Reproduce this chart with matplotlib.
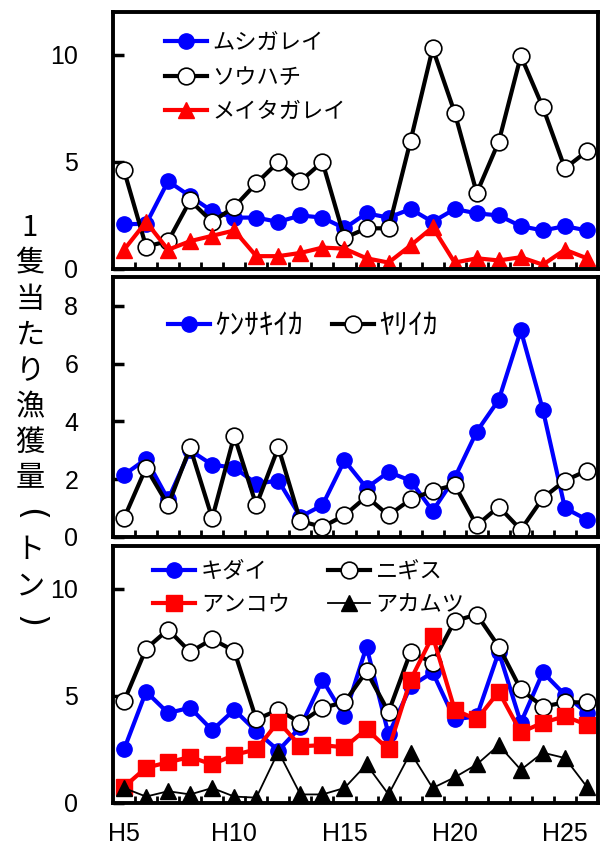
import numpy as np
import matplotlib
matplotlib.use('Agg')
import matplotlib.pyplot as plt

plt.rcParams['font.family'] = ['Noto Sans CJK JP', 'DejaVu Sans']

# 年度 H5〜H26
years = ['H%d' % y for y in range(5, 27)]
tick_years = ['H5', 'H10', 'H15', 'H20', 'H25']

# 上段
mushigarei = [2.1, 2.1, 4.1, 3.4, 2.7, 2.4, 2.4, 2.2, 2.5, 2.4, 1.9,
              2.6, 2.4, 2.8, 2.2, 2.8, 2.6, 2.5, 2.0, 1.8, 2.0, 1.8]
souhachi = [4.6, 1.05, 1.3, 3.2, 2.2, 2.9, 4.0, 5.0, 4.1, 5.0, 1.45,
            1.9, 1.9, 6.0, 10.3, 7.3, 3.55, 5.95, 9.95, 7.55, 4.7, 5.5]
meitagarei = [0.9, 2.2, 0.9, 1.3, 1.55, 1.8, 0.6, 0.6, 0.75, 1.0, 0.95,
              0.5, 0.3, 1.1, 1.95, 0.3, 0.5, 0.4, 0.55, 0.2, 0.9, 0.5]

# 中段
kensakiika = [2.15, 2.7, 1.3, 3.0, 2.5, 2.4, 1.85, 1.95, 0.7, 1.1, 2.65,
              1.7, 2.25, 1.95, 0.9, 2.05, 3.65, 4.75, 7.15, 4.4, 1.0, 0.6]
yariika = [0.65, 2.4, 1.1, 3.1, 0.65, 3.5, 1.1, 3.1, 0.55, 0.35, 0.75,
           1.4, 0.75, 1.3, 1.6, 1.8, 0.4, 1.05, 0.25, 1.35, 1.95, 2.3]

# 下段
kidai = [2.5, 5.2, 4.2, 4.45, 3.4, 4.35, 3.35, 2.45, 3.55, 5.75, 4.05,
         7.3, 3.2, 5.45, 6.1, 3.9, 4.05, 7.05, 3.75, 6.1, 5.05, 4.2]
nigisu = [4.75, 7.2, 8.1, 7.05, 7.65, 7.1, 3.9, 4.35, 3.75, 4.45, 4.7,
          6.15, 4.25, 7.05, 6.55, 8.5, 8.8, 7.3, 5.3, 4.5, 4.7, 4.7]
ankou = [0.75, 1.65, 1.9, 2.15, 1.8, 2.25, 2.5, 3.8, 2.65, 2.7, 2.6,
         3.45, 2.5, 5.75, 7.8, 4.35, 3.9, 5.2, 3.3, 3.75, 4.05, 3.65]
akamutsu = [0.7, 0.3, 0.55, 0.4, 0.7, 0.3, 0.25, 2.4, 0.4, 0.4, 0.7,
            1.8, 0.4, 2.35, 0.7, 1.2, 1.8, 2.7, 1.55, 2.35, 2.1, 0.75]

# 縦書きの軸ラベル（括弧は回転して描く）
ylabel_chars = ['1', '隻', '当', 'た', 'り', '漁', '獲', '量', '(', 'ト', 'ン', ')']

x = np.arange(len(years))

fig = plt.figure(figsize=(6.04, 8.48), dpi=100)
W, H = 604.0, 848.0


def make_ax(top_px, bot_px):
    return fig.add_axes([113 / W, (H - bot_px) / H, (598 - 113) / W, (bot_px - top_px) / H])


ax1 = make_ax(12, 269)
ax2 = make_ax(277, 537)
ax3 = make_ax(546, 803)

blue = dict(color='#0000FF', lw=3, marker='o', ms=11, mec='#0000FF')
white = dict(color='black', lw=3, marker='o', ms=12, mfc='white', mec='black', mew=1.2)

ax1.plot(x, mushigarei, label='ムシガレイ', **blue)
ax1.plot(x, souhachi, label='ソウハチ', **white)
ax1.plot(x, meitagarei, label='メイタガレイ', color='#FF0000', lw=3, marker='^', ms=12)

ax2.plot(x, kensakiika, label='ｹﾝｻｷｲｶ', **blue)
ax2.plot(x, yariika, label='ﾔﾘｲｶ', **white)

l_kidai, = ax3.plot(x, kidai, label='キダイ', **blue)
l_nigisu, = ax3.plot(x, nigisu, label='ニギス', **white)
l_ankou, = ax3.plot(x, ankou, label='アンコウ', color='#FF0000', lw=3, marker='s', ms=11)
l_akamutsu, = ax3.plot(x, akamutsu, label='アカムツ', color='black', lw=1.3, marker='^', ms=11)

for ax, ymax, yt in [(ax1, 12, [0, 5, 10]), (ax2, 9, [0, 2, 4, 6, 8]), (ax3, 12, [0, 5, 10])]:
    ax.set_xlim(-0.5, len(years) - 0.5)
    ax.set_ylim(0, ymax)
    ax.set_yticks(yt)
    ax.set_yticklabels([str(v) for v in yt], fontsize=18, family='Liberation Sans')
    ax.set_xticks(np.arange(0.5, len(years) - 1, 1), minor=True)
    ax.set_xticks(range(0, len(years), 5))
    ax.tick_params(axis='x', which='minor', direction='in', length=5, width=2)
    ax.tick_params(axis='x', which='major', length=0, pad=14)
    ax.tick_params(axis='y', direction='in', length=8, width=2.5, pad=25)
    for s in ax.spines.values():
        s.set_linewidth(2.8)
    if ax is ax3:
        ax.set_xticklabels(tick_years, fontsize=18, family='Liberation Sans')
    else:
        ax.set_xticklabels([])

leg_kw = dict(frameon=False, borderpad=0, borderaxespad=0, loc='upper left')
ax1.legend(bbox_to_anchor=(0.107, 0.925), fontsize=16, handlelength=1.9,
           handletextpad=0.25, labelspacing=0.5, **leg_kw)
ax2.legend(bbox_to_anchor=(0.113, 0.87), ncol=2, fontsize=21, handlelength=1.45,
           handletextpad=0.17, columnspacing=1.0, **leg_kw)
# 行方向の並び: キダイ ニギス / アンコウ アカムツ
ax3.legend([l_kidai, l_ankou, l_nigisu, l_akamutsu],
           ['キダイ', 'アンコウ', 'ニギス', 'アカムツ'],
           bbox_to_anchor=(0.083, 0.945), ncol=2, fontsize=16, handlelength=1.9,
           handletextpad=0.25, columnspacing=1.7, labelspacing=0.45, **leg_kw)

for i, ch in enumerate(ylabel_chars):
    ypos = (H - (228 + i * 35.8)) / H
    if ch in '()':
        fig.text(30 / W, ypos, ch, fontsize=24, family='DejaVu Sans',
                 ha='center', va='center', rotation=-90)
    else:
        fig.text(30 / W, ypos, ch, fontsize=21, ha='center', va='center')

fig.savefig('out.png', dpi=100)
